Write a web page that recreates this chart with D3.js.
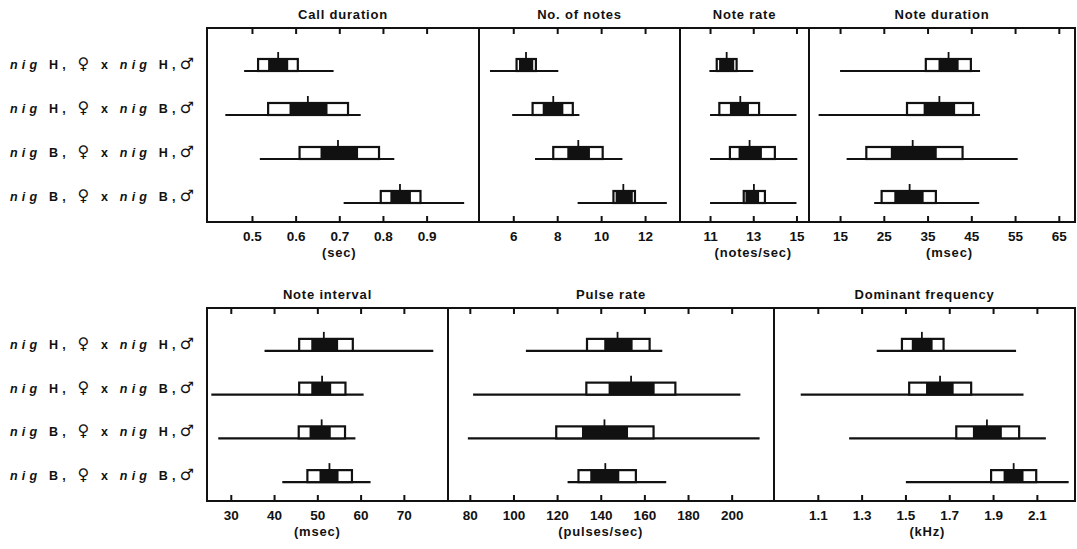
<!DOCTYPE html>
<html>
<head>
<meta charset="utf-8">
<script src="https://cdn.jsdelivr.net/npm/d3@7"></script>
<style>
  body { margin: 0; background: #fff; }
  text { font-family: "Liberation Sans", Arial, sans-serif; font-weight: bold; fill: #111; }
</style>
</head>
<body>
<svg id="chart" width="1077" height="549"></svg>
<script>
// row labels (female x male)
var crosses = [["H", "H"], ["H", "B"], ["B", "H"], ["B", "B"]];

// each row: [rangeLo, sdLo, ciLo, mean, ciHi, sdHi, rangeHi]
var callDuration = [
  [0.482, 0.514, 0.537, 0.560, 0.583, 0.605, 0.687],
  [0.439, 0.537, 0.586, 0.628, 0.673, 0.720, 0.749],
  [0.518, 0.609, 0.657, 0.697, 0.743, 0.791, 0.826],
  [0.710, 0.795, 0.817, 0.839, 0.864, 0.886, 0.986]
];
var noOfNotes = [
  [4.94, 6.15, 6.26, 6.58, 6.91, 7.03, 8.05],
  [5.95, 6.88, 7.34, 7.82, 8.28, 8.71, 9.01],
  [6.99, 7.82, 8.46, 8.96, 9.49, 10.07, 10.97],
  [8.93, 10.56, 10.66, 11.01, 11.44, 11.54, 12.99]
];
var noteRate = [
  [10.97, 11.31, 11.42, 11.77, 12.12, 12.23, 13.0],
  [11.0, 11.43, 11.92, 12.4, 12.8, 13.27, 15.0],
  [11.0, 11.92, 12.32, 12.83, 13.4, 14.0, 15.04],
  [11.0, 12.56, 12.64, 13.03, 13.27, 13.54, 15.0]
];
var noteDuration = [
  [15.0, 34.6, 37.5, 39.8, 42.1, 44.9, 47.0],
  [10.1, 30.3, 34.1, 37.7, 41.3, 45.4, 47.0],
  [16.5, 21.0, 26.6, 31.6, 37.1, 43.0, 55.6],
  [22.8, 24.5, 27.4, 30.9, 34.1, 36.9, 46.8]
];
var noteInterval = [
  [37.8, 45.8, 48.6, 51.5, 54.8, 58.2, 76.8],
  [25.5, 45.8, 48.6, 51.1, 53.2, 56.5, 60.7],
  [27.1, 45.7, 48.2, 51.0, 53.1, 56.4, 58.8],
  [41.9, 47.7, 50.5, 52.8, 54.9, 58.0, 62.3]
];
var pulseRate = [
  [105.7, 133.7, 141.6, 147.7, 154.6, 162.4, 168.2],
  [81.5, 133.4, 143.6, 153.9, 164.7, 174.2, 204.0],
  [79.1, 119.6, 131.4, 141.7, 152.5, 164.2, 212.8],
  [124.8, 129.8, 135.2, 142.1, 148.5, 156.1, 170.0]
];
var dominantFreq = [
  [1.369, 1.484, 1.529, 1.575, 1.624, 1.674, 2.005],
  [1.022, 1.517, 1.594, 1.658, 1.720, 1.800, 2.039],
  [1.243, 1.732, 1.808, 1.872, 1.940, 2.019, 2.141],
  [1.502, 1.891, 1.948, 1.994, 2.039, 2.097, 2.245]
];

var callTicks = [0.5, 0.6, 0.7, 0.8, 0.9];
var notesTicks = [6, 8, 10, 12];
var rateTicks = [11, 13, 15];
var durTicks = [15, 25, 35, 45, 55, 65];
var intervalTicks = [30, 40, 50, 60, 70];
var pulseTicks = [80, 100, 120, 140, 160, 180, 200];
var freqTicks = [1.1, 1.3, 1.5, 1.7, 1.9, 2.1];

var svg = d3.select("#chart");

var rows = [
  { top: 28, bottom: 222, panels: [
    { title: "Call duration", unit: "(sec)", data: callDuration, ticks: callTicks, fmt: d3.format(".1f"), x0: 207, x1: 479, domain: [0.397, 1.020] },
    { title: "No. of notes", unit: "", data: noOfNotes, ticks: notesTicks, fmt: d3.format("d"), x0: 479, x1: 680, domain: [4.44, 13.59] },
    { title: "Note rate", unit: "(notes/sec)", data: noteRate, ticks: rateTicks, fmt: d3.format("d"), x0: 680, x1: 809, domain: [9.61, 15.58] },
    { title: "Note duration", unit: "(msec)", data: noteDuration, ticks: durTicks, fmt: d3.format("d"), x0: 809, x1: 1075, domain: [7.9, 68.7] }
  ]},
  { top: 308, bottom: 501, panels: [
    { title: "Note interval", unit: "(msec)", data: noteInterval, ticks: intervalTicks, fmt: d3.format("d"), x0: 207, x1: 448, domain: [24.5, 80.2] },
    { title: "Pulse rate", unit: "(pulses/sec)", data: pulseRate, ticks: pulseTicks, fmt: d3.format("d"), x0: 448, x1: 774, domain: [70.0, 219.4] },
    { title: "Dominant frequency", unit: "(kHz)", data: dominantFreq, ticks: freqTicks, fmt: d3.format(".1f"), x0: 774, x1: 1075, domain: [0.9, 2.274] }
  ]}
];

rows.forEach(function(row) {
  var y = d3.scaleBand().domain(d3.range(4)).range([row.top + 8, row.bottom - 10]).paddingInner(0);
  var base = function(i) { return y(i) + y.bandwidth() / 2 + 13; };

  // row labels
  crosses.forEach(function(c, i) {
    var t = svg.append("text")
      .attr("x", 10).attr("y", base(i) - 2)
      .attr("textLength", 184).attr("lengthAdjust", "spacing")
      .style("font-size", "12.5px");
    t.append("tspan").style("font-style", "italic").text("nig ");
    t.append("tspan").text(c[0] + ", ");
    t.append("tspan").style("font-family", "DejaVu Sans").style("font-size", "16px").text("\u2640");
    t.append("tspan").text(" x ");
    t.append("tspan").style("font-style", "italic").text("nig ");
    t.append("tspan").text(c[1] + ",");
    t.append("tspan").style("font-family", "DejaVu Sans").style("font-size", "16px").text("\u2642");
  });

  row.panels.forEach(function(p) {
    var x = d3.scaleLinear().domain(p.domain).range([p.x0, p.x1]);
    var g = svg.append("g");

    g.append("rect")
      .attr("x", p.x0).attr("y", row.top)
      .attr("width", p.x1 - p.x0).attr("height", row.bottom - row.top)
      .attr("fill", "none").attr("stroke", "#111").attr("stroke-width", 2);

    g.append("g").attr("transform", "translate(0," + row.bottom + ")")
      .call(d3.axisBottom(x).tickValues(p.ticks).tickFormat(p.fmt).tickSize(-6).tickPadding(9))
      .call(function(a) {
        a.select(".domain").remove();
        a.selectAll("line").attr("stroke", "#111").attr("stroke-width", 2);
        a.selectAll("text").style("font-size", "13.5px").style("font-family", "Liberation Sans, Arial").style("font-weight", "bold");
      });
    g.append("g").attr("transform", "translate(0," + row.top + ")")
      .call(d3.axisTop(x).tickValues(p.ticks).tickFormat("").tickSize(-6))
      .call(function(a) {
        a.select(".domain").remove();
        a.selectAll("line").attr("stroke", "#111").attr("stroke-width", 2);
      });

    g.append("text")
      .attr("x", (p.x0 + p.x1) / 2).attr("y", row.top - 9)
      .attr("text-anchor", "middle")
      .style("font-size", "13px").style("letter-spacing", "0.8px")
      .text(p.title);

    if (p.unit) {
      g.append("text")
        .attr("x", x(d3.mean(p.ticks))).attr("y", row.bottom + 35)
        .attr("text-anchor", "middle")
        .style("font-size", "13px").style("letter-spacing", "0.8px")
        .text(p.unit);
    }

    p.data.forEach(function(d, i) {
      var yb = base(i);
      var h = 12;
      g.append("line")
        .attr("x1", x(d[0])).attr("x2", x(d[6]))
        .attr("y1", yb).attr("y2", yb)
        .attr("stroke", "#111").attr("stroke-width", 2.2);
      g.append("rect")
        .attr("x", x(d[1])).attr("y", yb - h)
        .attr("width", x(d[5]) - x(d[1])).attr("height", h)
        .attr("fill", "#fff").attr("stroke", "#111").attr("stroke-width", 2.2);
      g.append("rect")
        .attr("x", x(d[2])).attr("y", yb - h)
        .attr("width", x(d[4]) - x(d[2])).attr("height", h)
        .attr("fill", "#111");
      g.append("line")
        .attr("x1", x(d[3])).attr("x2", x(d[3]))
        .attr("y1", yb - h).attr("y2", yb - h - 7)
        .attr("stroke", "#111").attr("stroke-width", 1.8);
    });
  });
});
</script>
</body>
</html>
